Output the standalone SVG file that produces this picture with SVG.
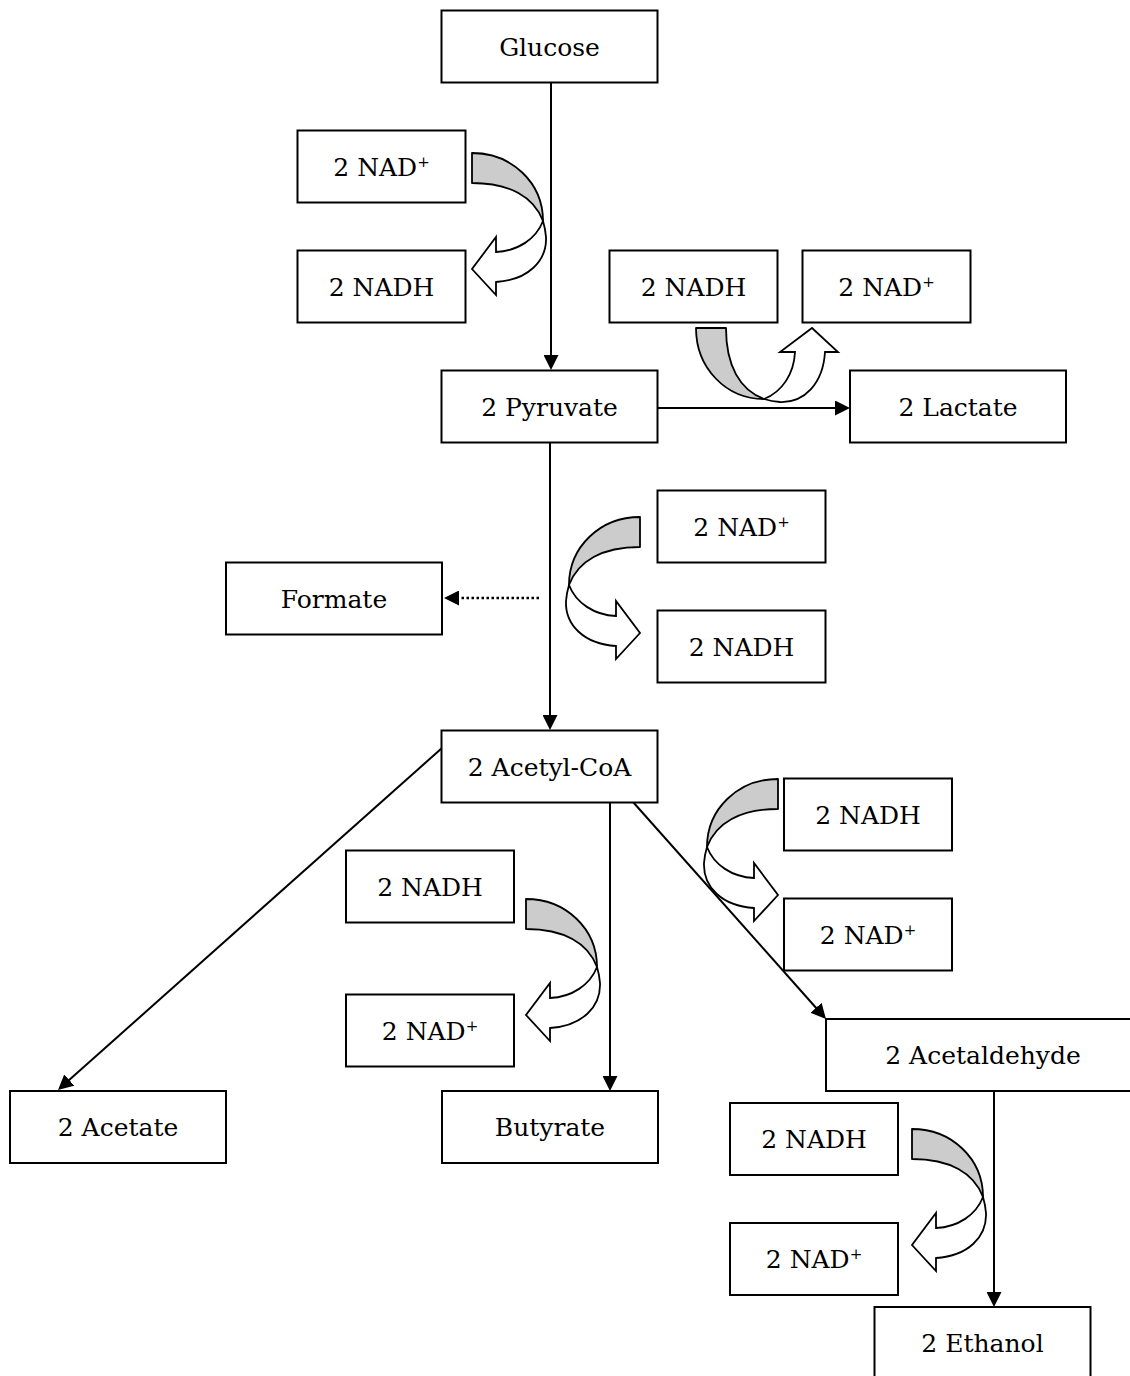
<svg xmlns="http://www.w3.org/2000/svg" xmlns:xlink="http://www.w3.org/1999/xlink" width="1130" height="1376" viewBox="0 0 1130 1376">
<style>
.box{fill:#fff;stroke:#000;stroke-width:2}
.lbl{font-family:"DejaVu Serif","Liberation Serif",serif;font-size:25px;text-anchor:middle;fill:#000}
.sup{font-size:15px}
.conn{fill:none;stroke:#000;stroke-width:2}
.dot{fill:none;stroke:#000;stroke-width:2.5;stroke-dasharray:2.5 2.5}
.back{fill:#cccccc;stroke:#000;stroke-width:1.8;stroke-linejoin:round}
.front{fill:#fff;stroke:#000;stroke-width:1.8;stroke-linejoin:miter}
</style>
<defs>
<marker id="ah" markerUnits="userSpaceOnUse" markerWidth="15" markerHeight="15" refX="11" refY="7.5" orient="auto">
<path d="M0,0 L15,7.5 L0,15 Z" fill="#000"/>
</marker>
<g id="ca">
<path class="back" d="M0,0 C40,0 71,30 71,68 C62,44 38,30 0,30 Z"/>
<path class="front" d="M71,68 C64,86 46,98 24,99 L24,84 L0,116 L24,142 L24,129 C56,127 75,108 74,84 C73.5,78 72.5,73 71,68 Z"/>
</g>
</defs>
<rect width="1130" height="1376" fill="#fff"/>
<g id="connectors">
<path class="conn" d="M551,82 V366" marker-end="url(#ah)"/>
<path class="conn" d="M658,408 H846" marker-end="url(#ah)"/>
<path class="conn" d="M550,442 V726" marker-end="url(#ah)"/>
<path class="dot" d="M539,598 H448" marker-end="url(#ah)"/>
<path class="conn" d="M442,748 L61,1087.3" marker-end="url(#ah)"/>
<path class="conn" d="M610,802 V1087" marker-end="url(#ah)"/>
<path class="conn" d="M633,802 L823.3,1016" marker-end="url(#ah)"/>
<path class="conn" d="M994,1091 V1303" marker-end="url(#ah)"/>
</g>
<g id="glucose"><rect class="box" x="441.5" y="10.5" width="216" height="72"/><text class="lbl" x="549.5" y="55.5">Glucose</text></g>
<g id="nad-1"><rect class="box" x="297.5" y="130.5" width="168" height="72"/><text class="lbl" x="381.5" y="175.5">2 NAD<tspan class="sup" dy="-9">+</tspan></text></g>
<g id="nadh-1"><rect class="box" x="297.5" y="250.5" width="168" height="72"/><text class="lbl" x="381.5" y="295.5">2 NADH</text></g>
<g id="nadh-2"><rect class="box" x="609.5" y="250.5" width="168" height="72"/><text class="lbl" x="693.5" y="295.5">2 NADH</text></g>
<g id="nad-2"><rect class="box" x="802.5" y="250.5" width="168" height="72"/><text class="lbl" x="886.5" y="295.5">2 NAD<tspan class="sup" dy="-9">+</tspan></text></g>
<g id="pyruvate"><rect class="box" x="441.5" y="370.5" width="216" height="72"/><text class="lbl" x="549.5" y="415.5">2 Pyruvate</text></g>
<g id="lactate"><rect class="box" x="850" y="370.5" width="216" height="72"/><text class="lbl" x="958" y="415.5">2 Lactate</text></g>
<g id="nad-3"><rect class="box" x="657.5" y="490.5" width="168" height="72"/><text class="lbl" x="741.5" y="535.5">2 NAD<tspan class="sup" dy="-9">+</tspan></text></g>
<g id="formate"><rect class="box" x="226" y="562.5" width="216" height="72"/><text class="lbl" x="334" y="607.5">Formate</text></g>
<g id="nadh-3"><rect class="box" x="657.5" y="610.5" width="168" height="72"/><text class="lbl" x="741.5" y="655.5">2 NADH</text></g>
<g id="acetyl-coa"><rect class="box" x="441.5" y="730.5" width="216" height="72"/><text class="lbl" x="549.5" y="775.5">2 Acetyl-CoA</text></g>
<g id="nadh-4"><rect class="box" x="784" y="778.5" width="168" height="72"/><text class="lbl" x="868" y="823.5">2 NADH</text></g>
<g id="nadh-5"><rect class="box" x="346" y="850.5" width="168" height="72"/><text class="lbl" x="430" y="895.5">2 NADH</text></g>
<g id="nad-4"><rect class="box" x="784" y="898.5" width="168" height="72"/><text class="lbl" x="868" y="943.5">2 NAD<tspan class="sup" dy="-9">+</tspan></text></g>
<g id="nad-5"><rect class="box" x="346" y="994.5" width="168" height="72"/><text class="lbl" x="430" y="1039.5">2 NAD<tspan class="sup" dy="-9">+</tspan></text></g>
<g id="acetaldehyde"><rect class="box" x="826" y="1019" width="314" height="72"/><text class="lbl" x="983" y="1064">2 Acetaldehyde</text></g>
<g id="acetate"><rect class="box" x="10" y="1091" width="216" height="72"/><text class="lbl" x="118" y="1136">2 Acetate</text></g>
<g id="butyrate"><rect class="box" x="442" y="1091" width="216" height="72"/><text class="lbl" x="550" y="1136">Butyrate</text></g>
<g id="nadh-6"><rect class="box" x="730" y="1103" width="168" height="72"/><text class="lbl" x="814" y="1148">2 NADH</text></g>
<g id="nad-6"><rect class="box" x="730" y="1223" width="168" height="72"/><text class="lbl" x="814" y="1268">2 NAD<tspan class="sup" dy="-9">+</tspan></text></g>
<g id="ethanol"><rect class="box" x="874.5" y="1307" width="216" height="100"/><text class="lbl" x="982.5" y="1352">2 Ethanol</text></g>
<g id="cofactor-arrows">
<use xlink:href="#ca" href="#ca" transform="translate(472,153)"/>
<use xlink:href="#ca" href="#ca" transform="matrix(0,1,1,0,696,328)"/>
<use xlink:href="#ca" href="#ca" transform="matrix(-1,0,0,1,640,517)"/>
<use xlink:href="#ca" href="#ca" transform="matrix(-1,0,0,1,778,779)"/>
<use xlink:href="#ca" href="#ca" transform="translate(526,899)"/>
<use xlink:href="#ca" href="#ca" transform="translate(912,1129)"/>
</g>
</svg>
